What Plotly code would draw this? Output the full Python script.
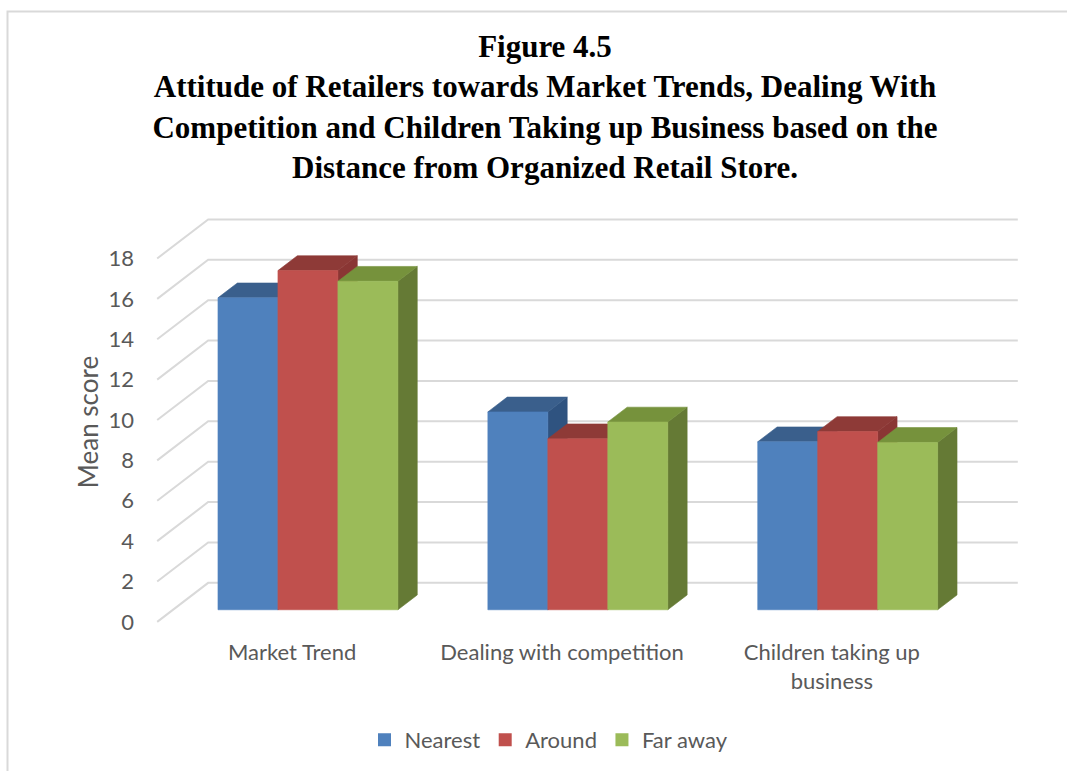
import plotly.graph_objects as go

# ---- data ----
categories = ["Market Trend", "Dealing with competition", "Children taking up<br>business"]
series_names = ["Nearest", "Around", "Far away"]
nearest = [15.45, 9.80, 8.32]
around = [16.80, 8.47, 8.83]
far_away = [16.27, 9.30, 8.29]
y_ticks = [0, 2, 4, 6, 8, 10, 12, 14, 16, 18]

series_values = [nearest, around, far_away]

# face colours: (front, top, side)
palette = [
    ("#4F81BD", "#3A5F8C", "#2F5380"),
    ("#C0504D", "#8E3A37", "#8A3634"),
    ("#9BBB59", "#76923C", "#657A35"),
]

# ---- oblique 3-D projection helpers (axis units) ----
DX = 51 / 270      # horizontal shift for full floor depth
DY = 39 / 20.17    # vertical shift for full floor depth
Z_FRONT, Z_BACK = 0.31, 0.69   # bar depth inside the floor
BAR_W = 2 / 9
GROUP_HALF = 1 / 3
X_LEFT, X_RIGHT = -0.5, 2.5

GRID = "#D9D9D9"
TEXT = "#595959"
FONT = "Lato"

fig = go.Figure()


def poly(xs, ys, color):
    fig.add_trace(go.Scatter(
        x=xs + [xs[0]], y=ys + [ys[0]], mode="lines", fill="toself",
        fillcolor=color, line=dict(color=color, width=0.6),
        hoverinfo="skip", showlegend=False))


# back wall gridlines and side wall diagonals
for v in y_ticks:
    fig.add_trace(go.Scatter(
        x=[X_LEFT, X_LEFT + DX, X_RIGHT + DX], y=[v, v + DY, v + DY],
        mode="lines", line=dict(color=GRID, width=2),
        hoverinfo="skip", showlegend=False))

# bars
for i in range(len(categories)):
    for k, vals in enumerate(series_values):
        v = vals[i]
        front, top, side = palette[k]
        x0 = i - GROUP_HALF + k * BAR_W
        x1 = x0 + BAR_W
        fx0, fx1 = x0 + DX * Z_FRONT, x1 + DX * Z_FRONT
        bx0, bx1 = x0 + DX * Z_BACK, x1 + DX * Z_BACK
        fy, by = DY * Z_FRONT, DY * Z_BACK
        poly([fx1, bx1, bx1, fx1], [fy, by, v + by, v + fy], side)
        poly([fx0, fx1, bx1, bx0], [v + fy, v + fy, v + by, v + by], top)
        poly([fx0, fx1, fx1, fx0], [fy, fy, v + fy, v + fy], front)

# legend entries
for name, cols in zip(series_names, palette):
    fig.add_trace(go.Scatter(
        x=[None], y=[None], mode="markers", name=name,
        marker=dict(symbol="square", size=13, color=cols[0])))

W, H = 1067, 771
L, R, T, B = 141, 30, 210, 137
plot_w, plot_h = W - L - R, H - T - B


def px_x(p):
    return (p - L) / plot_w


def px_y(p):
    return (H - B - p) / plot_h


fig.update_layout(
    width=W, height=H,
    margin=dict(l=L, r=R, t=T, b=B, autoexpand=False),
    paper_bgcolor="white", plot_bgcolor="white",
    font=dict(family=FONT, size=22, color=TEXT),
    title=dict(
        text=("<b>Figure 4.5</b><br><b>Attitude of Retailers towards Market Trends, Dealing With</b>"
              "<br><b>Competition and Children Taking up Business based on the</b>"
              "<br><b>Distance from Organized Retail Store.</b>"),
        font=dict(family="Liberation Serif", size=31, color="black"),
        x=545 / W, xanchor="center", xref="container",
        y=1 - 57 / H, yanchor="top", yref="container"),
    xaxis=dict(
        range=[-0.56, 2.76], showgrid=False, zeroline=False, showline=False,
        tickvals=[0, 1, 2], ticktext=categories, ticks="",
        ticklabelstandoff=3, tickfont=dict(family=FONT, size=22, color=TEXT),
        fixedrange=True),
    yaxis=dict(
        range=[-0.6, 20.4], showgrid=False, zeroline=False, showline=False,
        tickvals=y_ticks, ticks="", ticklabelstandoff=6,
        tickfont=dict(family=FONT, size=22, color=TEXT), fixedrange=True,
        title=dict(text="Mean score", font=dict(family=FONT, size=26, color=TEXT),
                   standoff=2)),
    legend=dict(
        orientation="h", x=px_x(549), xanchor="center", y=px_y(740), yanchor="middle",
        font=dict(family=FONT, size=22, color=TEXT), itemwidth=30,
        bgcolor="rgba(0,0,0,0)"),
    shapes=[dict(
        type="rect", xref="paper", yref="paper",
        x0=px_x(7.5), x1=px_x(W + 20), y0=px_y(H + 20), y1=px_y(11.5),
        line=dict(color="#D9D9D9", width=2), fillcolor="rgba(0,0,0,0)", layer="below")],
)

fig.write_html("out.html")
